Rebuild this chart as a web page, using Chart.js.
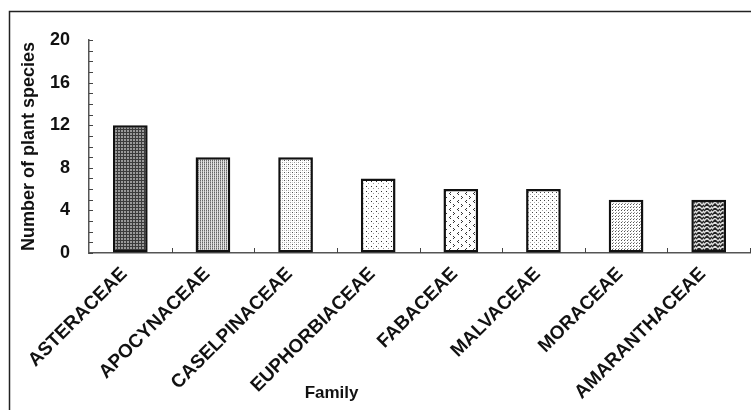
<!DOCTYPE html>
<html>
<head>
<meta charset="utf-8">
<script src="https://cdn.jsdelivr.net/npm/chart.js@4"></script>
<style>
    body { margin: 0; background: #fff; }
    #wrap { width: 751px; height: 410px; }
</style>
</head>
<body>
<div id="wrap"><canvas id="chartFamily"></canvas></div>
<script>
'use strict';

const FAMILIES = ['ASTERACEAE', 'APOCYNACEAE', 'CASELPINACEAE', 'EUPHORBIACEAE',
    'FABACEAE', 'MALVACEAE', 'MORACEAE', 'AMARANTHACEAE'];
const SPECIES = [12, 9, 9, 7, 6, 6, 5, 5];
const Y_TICKS = [0, 4, 8, 12, 16, 20];
const Y_MINOR_STEP = 1;
const Y_TITLE = 'Number of plant species';
const X_TITLE = 'Family';

const FONT = '"Liberation Sans", Arial, sans-serif';

// small tiles repeated inside the bars, one per family
function makePattern(w, h, draw) {
    let c = document.createElement('canvas');
    c.width = w;
    c.height = h;
    let g = c.getContext('2d');
    draw(g);
    return g.createPattern(c, 'repeat');
}

function px(g, color, pts) {
    g.fillStyle = color;
    pts.forEach(function(p) { g.fillRect(p[0], p[1], 1, 1); });
}

const patterns = [
    makePattern(3, 3, function(g) {
        g.fillStyle = '#9a9a9a'; g.fillRect(0, 0, 3, 3);
        g.fillStyle = '#3c3c3c'; g.fillRect(0, 0, 3, 1); g.fillRect(0, 0, 1, 3);
    }),
    makePattern(2, 2, function(g) {
        g.fillStyle = '#e2e2e2'; g.fillRect(0, 0, 2, 2);
        px(g, '#666', [[0, 0]]);
        px(g, '#a0a0a0', [[0, 1]]);
    }),
    makePattern(4, 4, function(g) {
        g.fillStyle = '#fff'; g.fillRect(0, 0, 4, 4);
        px(g, '#555', [[0, 0]]);
        px(g, '#999', [[2, 2]]);
        px(g, '#ccc', [[2, 0], [0, 2]]);
    }),
    makePattern(5, 5, function(g) {
        g.fillStyle = '#fff'; g.fillRect(0, 0, 5, 5);
        px(g, '#333', [[1, 1]]);
        px(g, '#999', [[3, 3]]);
    }),
    makePattern(8, 8, function(g) {
        g.fillStyle = '#fff'; g.fillRect(0, 0, 8, 8);
        px(g, '#333', [[2, 0], [1, 1], [2, 2], [5, 4], [6, 5], [5, 6]]);
    }),
    makePattern(4, 4, function(g) {
        g.fillStyle = '#fff'; g.fillRect(0, 0, 4, 4);
        px(g, '#444', [[0, 0]]);
        px(g, '#aaa', [[2, 2]]);
    }),
    makePattern(3, 3, function(g) {
        g.fillStyle = '#fff'; g.fillRect(0, 0, 3, 3);
        px(g, '#555', [[0, 0]]);
        px(g, '#999', [[1, 2]]);
    }),
    makePattern(8, 8, function(g) {
        g.fillStyle = '#e0e0e0'; g.fillRect(0, 0, 8, 8);
        g.strokeStyle = '#222';
        g.lineWidth = 1.5;
        g.beginPath();
        g.moveTo(0, 3); g.lineTo(3, 0); g.lineTo(6, 3); g.lineTo(8, 1);
        g.moveTo(0, 7); g.lineTo(3, 4); g.lineTo(6, 7); g.lineTo(8, 5);
        g.stroke();
    })
];

// frame round the whole figure, inward tick marks, the x title
const decorations = {
    id: 'decorations',
    beforeDraw(chart) {
        let ctx = chart.ctx;
        ctx.save();
        ctx.strokeStyle = '#222';
        ctx.lineWidth = 1.5;
        ctx.strokeRect(9.5, 11.5, 760, 420);
        ctx.restore();
    },
    afterDraw(chart) {
        let ctx = chart.ctx;
        let x = chart.scales.x;
        let y = chart.scales.y;
        let area = chart.chartArea;
        ctx.save();
        ctx.strokeStyle = '#444';
        ctx.lineWidth = 1;
        ctx.beginPath();
        for (let v = Y_TICKS[0]; v <= Y_TICKS[Y_TICKS.length - 1]; v += Y_MINOR_STEP) {
            let py = Math.round(y.getPixelForValue(v)) + 0.5;
            ctx.moveTo(area.left, py);
            ctx.lineTo(area.left + 4, py);
        }
        let half = (x.getPixelForValue(1) - x.getPixelForValue(0)) / 2;
        for (let i = 0; i < FAMILIES.length; i++) {
            let pxl = Math.round(x.getPixelForValue(i) + half) + 0.5;
            ctx.moveTo(pxl, area.bottom);
            ctx.lineTo(pxl, area.bottom - 5);
        }
        ctx.stroke();

        ctx.fillStyle = '#111';
        ctx.font = 'bold 17px ' + FONT;
        ctx.textAlign = 'center';
        ctx.textBaseline = 'middle';
        ctx.fillText(X_TITLE, area.left + (area.right - area.left) * 0.367, 393);
        ctx.restore();
    }
};

const data = {
    labels: FAMILIES,
    datasets: [
        {
            label: Y_TITLE,
            data: SPECIES,
            backgroundColor: patterns,
            borderColor: '#111',
            borderWidth: 2.5,
            borderSkipped: false,
            barPercentage: 0.42,
            categoryPercentage: 1
        }
    ]
};

const config = {
    type: 'bar',
    data,
    options: {
        responsive: true,
        maintainAspectRatio: false,
        animation: false,
        layout: { padding: { top: 40, right: 1, left: 0, bottom: 0 } },
        plugins: {
            legend: { display: false },
            tooltip: { enabled: false }
        },
        scales: {
            x: {
                offset: true,
                grid: { display: true, drawOnChartArea: false, drawTicks: false },
                border: { display: true, color: '#555', width: 1.5 },
                ticks: {
                    autoSkip: false,
                    minRotation: 45,
                    maxRotation: 45,
                    padding: 10,
                    labelOffset: -6,
                    color: '#111',
                    font: { family: FONT, size: 19, weight: 'bold' }
                },
                afterFit: function(scale) { scale.height = 157; }
            },
            y: {
                min: Y_TICKS[0],
                max: Y_TICKS[Y_TICKS.length - 1],
                grid: { display: true, drawOnChartArea: false, drawTicks: false },
                border: { display: true, color: '#555', width: 1.5 },
                afterBuildTicks: function(scale) {
                    scale.ticks = Y_TICKS.map(function(v) { return { value: v }; });
                },
                ticks: {
                    padding: 19,
                    color: '#111',
                    font: { family: FONT, size: 18, weight: 'bold' }
                },
                title: {
                    display: true,
                    text: Y_TITLE,
                    color: '#111',
                    padding: { top: 18, bottom: 0 },
                    font: { family: FONT, size: 18, weight: 'bold' }
                },
                afterFit: function(scale) { scale.width = 89; }
            }
        }
    },
    plugins: [decorations]
};

let chartFamily = new Chart(document.getElementById('chartFamily'), config);
</script>
</body>
</html>
